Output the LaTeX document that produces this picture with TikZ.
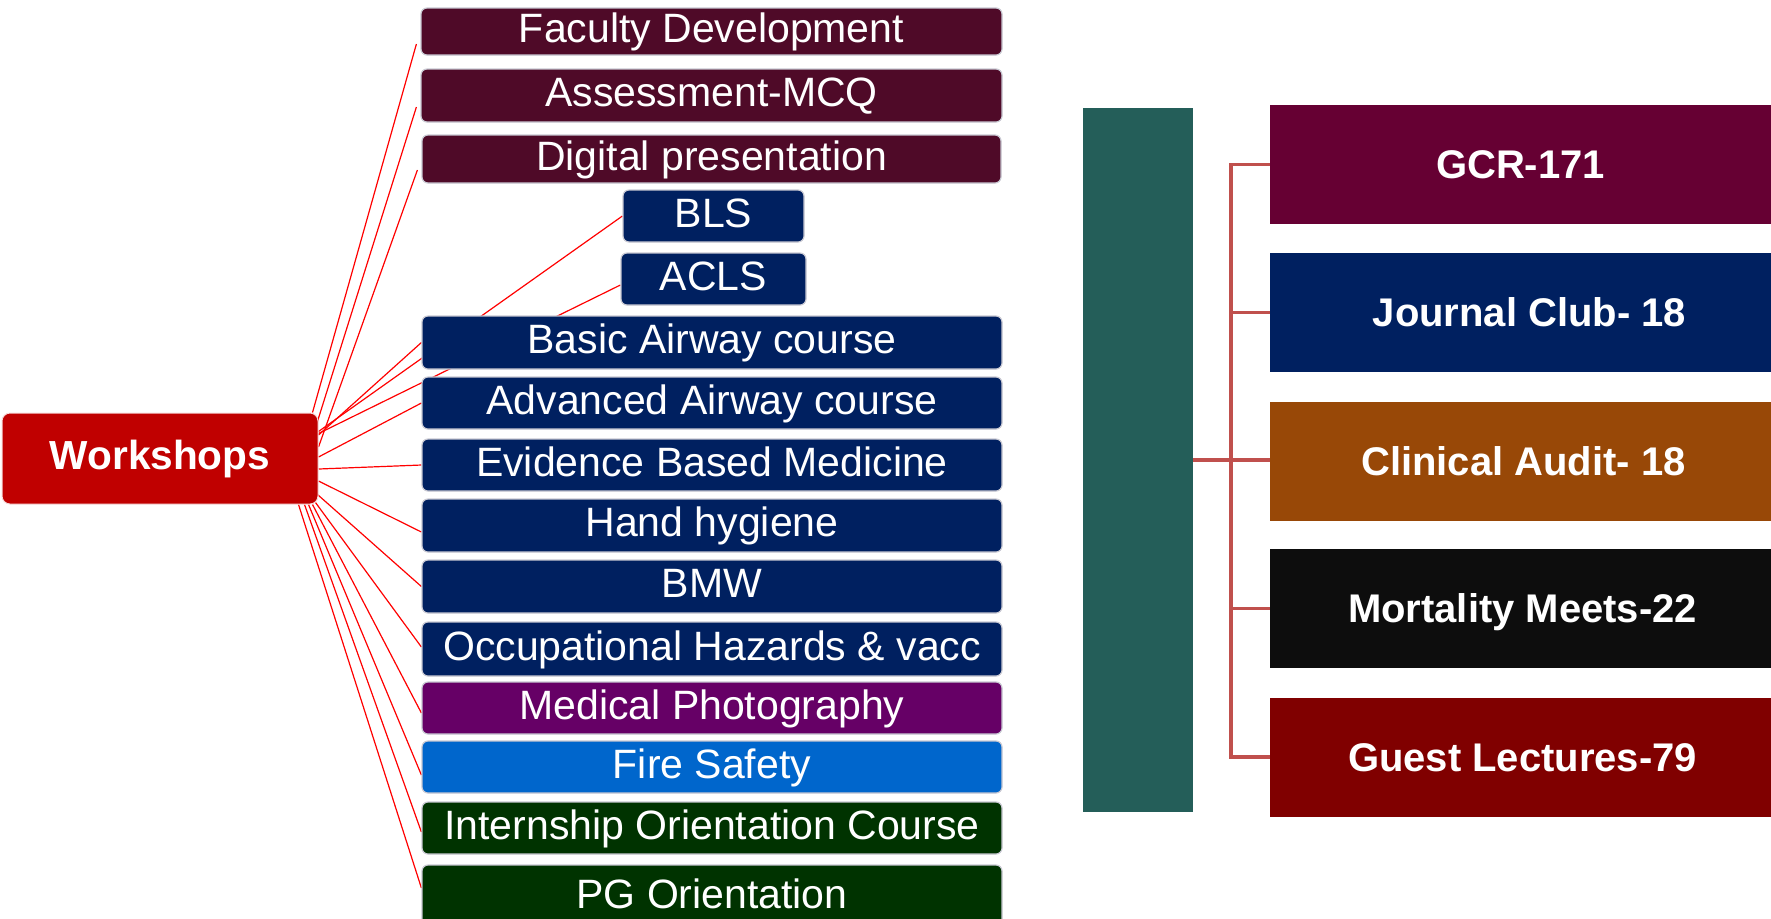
\documentclass[tikz,border=0pt]{standalone}
\usepackage{fontspec}
\setmainfont{Liberation Sans}
\usetikzlibrary{calc,backgrounds}
\definecolor{maroonbox}{HTML}{4F0A28}
\definecolor{navybox}{HTML}{002060}
\definecolor{purplebox}{HTML}{660066}
\definecolor{firebox}{HTML}{0066CC}
\definecolor{greenbox}{HTML}{003300}
\definecolor{wsred}{HTML}{C00000}
\definecolor{tealbar}{HTML}{245E59}
\definecolor{gcrcol}{HTML}{660033}
\definecolor{auditcol}{HTML}{984807}
\definecolor{mortcol}{HTML}{0D0D0D}
\definecolor{guestcol}{HTML}{800000}
\definecolor{buscol}{HTML}{C0504D}
\definecolor{edgecol}{HTML}{C8C8D2}
\begin{document}
\begin{tikzpicture}[x=0.5pt,y=-0.5pt,
  sz/.style 2 args={minimum width=#1*0.5pt, minimum height=#2*0.5pt},
  lbox/.style={rectangle, rounded corners=3pt, draw=edgecol, line width=0.6pt, inner sep=0pt,
    text=white, font=\fontsize{20.5}{24}\selectfont, text height=14.7pt, text depth=3.6pt},
  wsbox/.style={rectangle, rounded corners=4pt, fill=wsred, draw=white!85!wsred, line width=0.5pt, inner sep=0pt,
    text=white, font=\bfseries\fontsize{20.3}{24}\selectfont, text height=14.5pt, text depth=4pt},
  rbox/.style={rectangle, inner sep=0pt, text=white, font=\bfseries\fontsize{20}{24}\selectfont,
    text height=14.3pt, text depth=0pt, sz={501}{119}},
  wl/.style={draw=red, line width=0.6pt},
  busline/.style={draw=buscol, line width=1.8pt}
]
\useasboundingbox (0,0) rectangle (1771,918);

% left column
\node[lbox, fill=maroonbox, sz={581}{47}] (fd) at (711.5,31.5) {Faculty Development};
\node[lbox, fill=maroonbox, sz={581}{53}] (am) at (711.5,95.5) {Assessment-MCQ};
\node[lbox, fill=maroonbox, sz={579}{48}] (dp) at (711.5,159) {Digital presentation};
\node[lbox, fill=navybox, sz={181}{52}] (bls) at (713.5,216) {BLS};
\node[lbox, fill=navybox, sz={185}{52}] (acls) at (713.5,279) {ACLS};
\node[lbox, fill=navybox, sz={580}{53}] (bac) at (712,342.5) {Basic Airway course};
\node[lbox, fill=navybox, sz={580}{52}] (aac) at (712,403) {Advanced Airway course};
\node[lbox, fill=navybox, sz={580}{52}] (ebm) at (712,465) {Evidence Based Medicine};
\node[lbox, fill=navybox, sz={580}{53}] (hh) at (712,525.5) {Hand hygiene};
\node[lbox, fill=navybox, sz={580}{53}] (bmw) at (712,586.5) {BMW};
\node[lbox, fill=navybox, sz={580}{54}] (occ) at (712,649) {Occupational Hazards \& vacc};
\node[lbox, fill=purplebox, sz={580}{52}] (mp) at (712,708) {Medical Photography};
\node[lbox, fill=firebox, sz={580}{52}] (fs) at (712,767) {Fire Safety};
\node[lbox, fill=greenbox, sz={580}{52}] (ioc) at (712,828) {Internship Orientation Course};
\node[lbox, fill=greenbox, sz={580}{65}] (pg) at (712,897.5) {PG Orientation};

\node[wsbox, sz={316}{91}] (ws) at (160,458.5) {Workshops};

\begin{scope}[on background layer]
\draw[wl] ($(ws.north east)+(-6,0)$) -- ($(fd.west)+(-4,12.5)$);
\draw[wl] ($(ws.north east)+(-2,12)$) -- ($(am.west)+(-4,11.5)$);
\draw[wl] ($(ws.east)+(0,-11.5)$) -- ($(dp.west)+(-4,11)$);
\draw[wl] ($(ws.east)+(0,-27)$) -- (bls.west);
\draw[wl] ($(ws.east)+(0,-25)$) -- ($(acls.west)+(0,6)$);
\draw[wl] ($(ws.east)+(0,-23.5)$) -- (bac.west);
\draw[wl] ($(ws.east)+(0,-1.5)$) -- (aac.west);
\draw[wl] ($(ws.east)+(0,10.5)$) -- (ebm.west);
\draw[wl] ($(ws.east)+(0,22.5)$) -- ($(hh.west)+(0,6.5)$);
\draw[wl] ($(ws.south east)+(-1,-10)$) -- (bmw.west);
\draw[wl] ($(ws.south east)+(-3,-2)$) -- ($(occ.west)+(0,-2)$);
\draw[wl] ($(ws.south east)+(-6,0)$) -- ($(mp.west)+(0,5)$);
\draw[wl] ($(ws.south east)+(-10,0)$) -- ($(fs.west)+(0,8)$);
\draw[wl] ($(ws.south east)+(-14,0)$) -- ($(ioc.west)+(0,4)$);
\draw[wl] ($(ws.south east)+(-20,0)$) -- ($(pg.west)+(0,-9.5)$);
\end{scope}

% right side
\node[rectangle, fill=tealbar, inner sep=0pt, sz={110}{704}] (tl) at (1138,460) {};
\node[rbox, fill=gcrcol] (gcr) at (1520.5,164.5) {GCR-171};
\node[rbox, fill=navybox] (jc) at (1520.5,312.5) {\hspace*{9pt}Journal Club- 18};
\node[rbox, fill=auditcol] (ca) at (1520.5,461) {\hspace*{3pt}Clinical Audit- 18};
\node[rbox, fill=mortcol] (mm) at (1520.5,608.5) {\hspace*{2pt}Mortality Meets-22};
\node[rbox, fill=guestcol] (gl) at (1520.5,757) {\hspace*{2pt}Guest Lectures-79};

\coordinate (bx) at (1231,0);
\draw[busline] (gcr.west) -- (gcr.west -| bx) -- (gl.west -| bx) -- (gl.west);
\draw[busline] (jc.west) -- (jc.west -| bx);
\draw[busline] (mm.west) -- (mm.west -| bx);
\draw[busline] (tl.east) -- (tl.east -| ca.west);
\end{tikzpicture}
\end{document}
